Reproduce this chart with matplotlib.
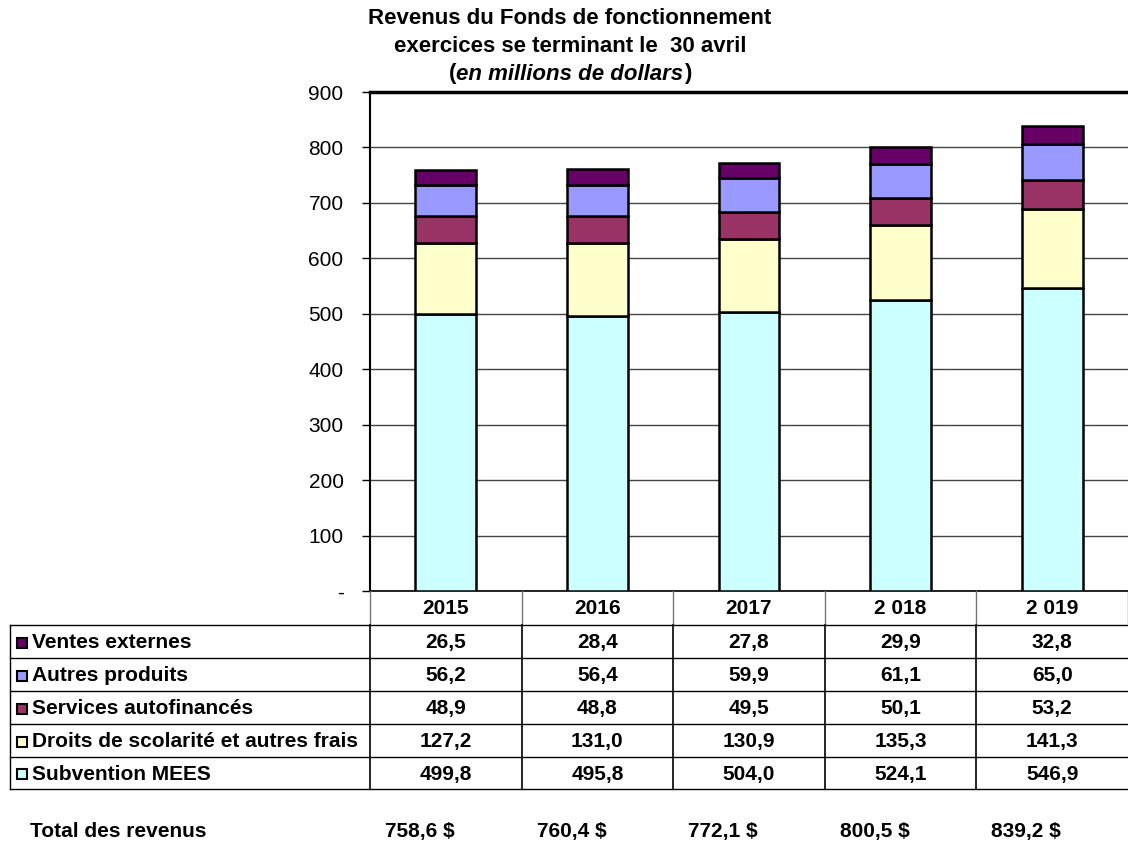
import numpy as np
import matplotlib.pyplot as plt
from matplotlib.patches import Rectangle
from matplotlib.lines import Line2D

plt.rcParams['font.family'] = ['Liberation Sans', 'DejaVu Sans']

years = ['2015', '2016', '2017', '2 018', '2 019']
series = ['Subvention MEES', 'Droits de scolarité et autres frais',
          'Services autofinancés', 'Autres produits', 'Ventes externes']
subvention = [499.8, 495.8, 504.0, 524.1, 546.9]
droits = [127.2, 131.0, 130.9, 135.3, 141.3]
services = [48.9, 48.8, 49.5, 50.1, 53.2]
autres = [56.2, 56.4, 59.9, 61.1, 65.0]
ventes = [26.5, 28.4, 27.8, 29.9, 32.8]
totals = [758.6, 760.4, 772.1, 800.5, 839.2]
colors = ['#CCFFFF', '#FFFFCC', '#993366', '#9999FF', '#660066']

W, H = 1128, 863
fig = plt.figure(figsize=(W / 100, H / 100), dpi=100)

# plot area in pixels
x0, x1 = 370, 1128
ytop, ybot = 92, 591
ax = fig.add_axes([x0 / W, 1 - ybot / H, (x1 - x0) / W, (ybot - ytop) / H])

values = [subvention, droits, services, autres, ventes]
idx = np.arange(len(years))
bottom = np.zeros(len(years))
for vals, c in zip(values, colors):
    ax.bar(idx, vals, 0.4, bottom=bottom, color=c, edgecolor='black',
           linewidth=1.8, zorder=3)
    bottom += np.array(vals)

ax.set_xlim(-0.5, len(years) - 0.5)
ax.set_ylim(0, 900)
ax.set_yticks(range(0, 901, 100))
ax.set_yticklabels(['-'] + [str(v) for v in range(100, 901, 100)], fontsize=15)
ax.set_xticks([])
ax.yaxis.grid(True, color='#444444', linewidth=1)
ax.set_axisbelow(True)
ax.tick_params(axis='y', length=6, width=1, direction='out', pad=13)
ax.spines['top'].set_linewidth(2.5)
ax.spines['left'].set_linewidth(1.5)
ax.spines['right'].set_visible(False)
ax.spines['bottom'].set_linewidth(1.2)

def fx(px):
    return px / W

def fy(py):
    return 1 - py / H

# title
tx = 570
tfs = 16
fig.text(fx(tx), fy(19), 'Revenus du Fonds de fonctionnement', ha='center',
         va='center', fontsize=tfs, fontweight='bold')
fig.text(fx(tx), fy(46), 'exercices se terminant le  30 avril', ha='center',
         va='center', fontsize=tfs, fontweight='bold')
mid = fig.text(fx(tx), fy(74), 'en millions de dollars', ha='center', va='center',
               fontsize=tfs, fontweight='bold', style='italic')
r = fig.canvas.get_renderer()
bb = mid.get_window_extent(r)
fig.text(bb.x0 / W, fy(74), '(', ha='right', va='center', fontsize=tfs, fontweight='bold')
fig.text(bb.x1 / W, fy(74), ')', ha='left', va='center', fontsize=tfs,
         fontweight='bold')

# data table below the chart
fs = 15
colw = (x1 - x0) / len(years)
col_edges = [x0 + colw * i for i in range(len(years) + 1)]
row_edges = [625, 658, 691, 724, 757, 789]

# header
for i, yr in enumerate(years):
    cx = x0 + colw * (i + 0.5)
    fig.text(fx(cx), fy(609), yr, ha='center', va='center', fontsize=fs, fontweight='bold')
for ex in col_edges:
    fig.add_artist(Line2D([fx(ex)] * 2, [fy(591), fy(625)], color='#777777', lw=1))

# body rows (top to bottom: ventes ... subvention)
order = list(range(len(series)))[::-1]
for r_, s in enumerate(order):
    ymid = (row_edges[r_] + row_edges[r_ + 1]) / 2 + 1
    fig.add_artist(Rectangle((fx(17), fy(ymid + 5)), 10 / W, 10 / H,
                             facecolor=colors[s], edgecolor='black', lw=1.5))
    fig.text(fx(32), fy(ymid), series[s], ha='left', va='center',
             fontsize=fs, fontweight='bold')
    for i in range(len(years)):
        cx = x0 + colw * (i + 0.5)
        fig.text(fx(cx), fy(ymid), f'{values[s][i]:.1f}'.replace('.', ','),
                 ha='center', va='center', fontsize=fs, fontweight='bold')

for ry in row_edges:
    fig.add_artist(Line2D([fx(10), fx(x1)], [fy(ry)] * 2, color='black', lw=1))
fig.add_artist(Line2D([fx(10)] * 2, [fy(625), fy(789)], color='black', lw=1))
for ex in col_edges[:-1]:
    fig.add_artist(Line2D([fx(ex)] * 2, [fy(625), fy(789)], color='black', lw=1.2))

# totals
fig.text(fx(30), fy(831), 'Total des revenus', ha='left', va='center',
         fontsize=fs, fontweight='bold')
for i, t in enumerate(totals):
    cx = x0 + colw * (i + 0.5) - 26
    fig.text(fx(cx), fy(831), f'{t:.1f} $'.replace('.', ','), ha='center',
             va='center', fontsize=fs, fontweight='bold')

fig.savefig('out.png', dpi=100)
